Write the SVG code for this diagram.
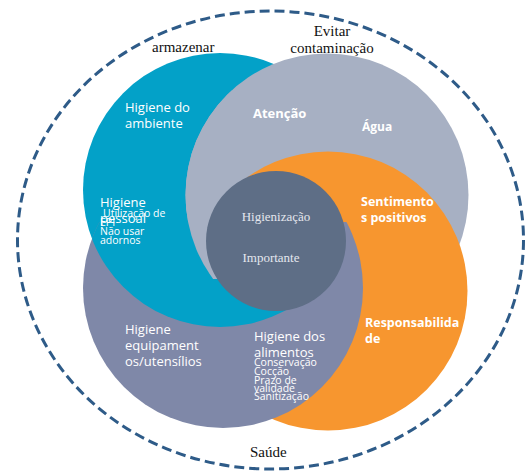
<svg xmlns="http://www.w3.org/2000/svg" width="526" height="472" viewBox="0 0 526 472">
<style>
.lbl{font-family:"Open Sans","Noto Sans",sans-serif;fill:#ffffff}
.b{font-weight:bold}
.n{font-size:13px}
.s{font-size:10.5px}
.ser{font-family:"Liberation Serif",serif;font-size:15px;fill:#111111}
.cen{font-family:"Liberation Serif",serif;font-size:13px;fill:#e4e7ee}
.cA{fill:#03a1c8}
.cB{fill:#a7b0c3}
.cO{fill:#f7962f}
.cP{fill:#7f88a8}
</style>
<defs>
<clipPath id="clipLow"><rect x="0" y="222" width="526" height="250"/></clipPath>
<clipPath id="clipLowLeft"><rect x="0" y="222" width="300" height="250"/></clipPath>
<clipPath id="clipP"><circle cx="223" cy="288" r="140"/></clipPath>
<clipPath id="clipL"><rect x="0" y="0" width="232" height="279"/></clipPath>
</defs>
<rect width="526" height="472" fill="#ffffff"/>
<g id="outer">
<ellipse cx="270.5" cy="240" rx="253" ry="229" fill="none" stroke="#2e5b88" stroke-width="3" stroke-dasharray="10 5"/>
<text class="ser" x="152" y="52">armazenar</text>
<text class="ser" x="332" y="36" text-anchor="middle">Evitar</text>
<text class="ser" x="332" y="53" text-anchor="middle">contaminação</text>
<text class="ser" x="250" y="457">Saúde</text>
</g>
<g id="shapes">
<circle class="cA" cx="220" cy="190" r="137"/>
<circle class="cB" cx="327" cy="195" r="141.5"/>
<circle class="cO" cx="328" cy="291" r="139.5"/>
<g clip-path="url(#clipLow)">
<circle class="cP" cx="223" cy="288" r="140"/>
</g>
<g clip-path="url(#clipLowLeft)">
<g clip-path="url(#clipP)"><circle class="cA" cx="220" cy="190" r="137"/></g>
</g>
<g clip-path="url(#clipL)"><circle class="cB" cx="327" cy="195" r="141.5"/></g>
</g>
<g id="node-ambiente">
<text class="lbl n" x="125" y="112">Higiene do</text>
<text class="lbl n" x="125" y="128">ambiente</text>
</g>
<g id="node-pessoal">
<text class="lbl n" x="100" y="207">Higiene</text>
<text class="lbl n" x="100" y="223">pessoal</text>
<text class="lbl s" x="103" y="217">Utilização de</text>
<text class="lbl s" x="100" y="226">EPI</text>
<text class="lbl s" x="100" y="235">Não usar</text>
<text class="lbl s" x="100" y="244">adornos</text>
</g>
<g id="node-contaminacao">
<text class="lbl b" x="253" y="118" font-size="13">Atenção</text>
<text class="lbl b" x="362" y="131" font-size="12">Água</text>
</g>
<g id="node-sentimentos">
<text class="lbl b" x="361" y="206" font-size="12.5">Sentimento</text>
<text class="lbl b" x="361" y="222" font-size="12.5">s positivos</text>
<text class="lbl b" x="365" y="327" font-size="12.5">Responsabilida</text>
<text class="lbl b" x="365" y="343" font-size="12.5">de</text>
</g>
<g id="node-equipamentos">
<text class="lbl n" x="125" y="334">Higiene</text>
<text class="lbl n" x="125" y="350">equipament</text>
<text class="lbl n" x="125" y="366">os/utensílios</text>
</g>
<g id="node-alimentos">
<text class="lbl n" x="254" y="341">Higiene dos</text>
<text class="lbl n" x="254" y="357">alimentos</text>
<text class="lbl s" x="254" y="366">Conservação</text>
<text class="lbl s" x="254" y="375">Cocção</text>
<text class="lbl s" x="254" y="384">Prazo de</text>
<text class="lbl s" x="254" y="392">validade</text>
<text class="lbl s" x="254" y="400">Sanitização</text>
</g>
<g id="node-centro">
<circle cx="276" cy="241" r="70" fill="#5e6e86"/>
<text class="cen" x="276" y="221" text-anchor="middle">Higienização</text>
<text class="cen" x="271" y="262" text-anchor="middle">Importante</text>
</g>
<g id="connectors"/>
</svg>
